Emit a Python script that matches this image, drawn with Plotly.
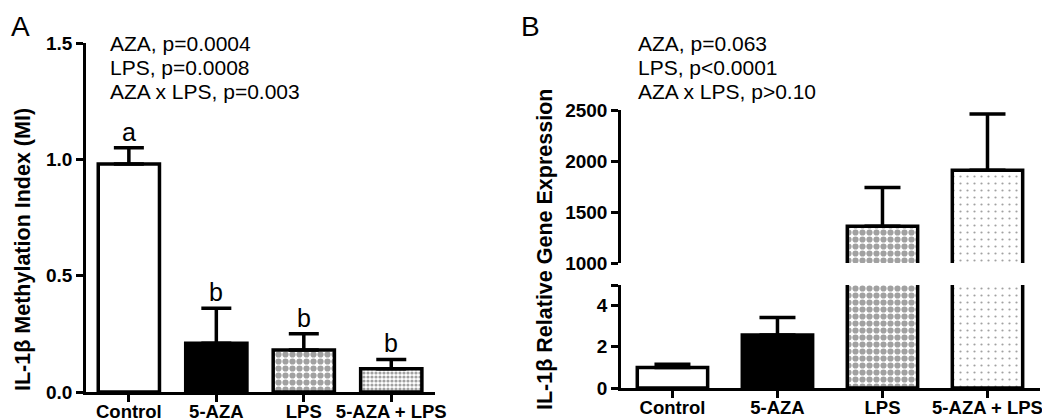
import plotly.graph_objects as go

categories = ["Control", "5-AZA", "LPS", "5-AZA + LPS"]

# Panel A: IL-1b methylation index
mi_mean = [0.98, 0.21, 0.18, 0.10]
mi_err = [0.07, 0.15, 0.07, 0.04]
mi_letters = ["a", "b", "b", "b"]
mi_ticks = [0.0, 0.5, 1.0, 1.5]
mi_ticktext = ["0.0", "0.5", "1.0", "1.5"]
a_stats = ["AZA, p=0.0004", "LPS, p=0.0008", "AZA x LPS, p=0.003"]

# Panel B: IL-1b relative gene expression (broken axis)
ge_mean = [1.0, 2.57, 1360, 1910]
ge_err = [0.15, 0.85, 380, 550]
ge_low_ticks = [0, 2, 4, 5]
ge_low_ticktext = ["0", "2", "4", ""]
ge_high_ticks = [1000, 1500, 2000, 2500]
b_stats = ["AZA, p=0.063", "LPS, p<0.0001", "AZA x LPS, p>0.10"]

FONT = "Liberation Sans, Arial, sans-serif"
W, H = 1050, 420
OFF = 8  # page body margin offset

def px_x(p):
    return (p - OFF) / W

def px_y(p):
    return 1 - (p - OFF) / H

fig = go.Figure()

bar_line = dict(color="black", width=3.5)
fill_colors = ["white", "black", "white", "white"]

# Panel A bars
fig.add_trace(go.Bar(
    x=categories, y=mi_mean, width=0.7,
    marker=dict(
        color=fill_colors, line=bar_line,
        pattern=dict(shape=["", "", ".", "."], fgcolor="black", bgcolor="white",
                     size=[6, 6, 7, 4], solidity=[0.3, 0.3, 0.62, 0.5], fillmode="overlay"),
    ),
    error_y=dict(type="data", array=mi_err, symmetric=False, arrayminus=[0, 0, 0, 0],
                 color="black", thickness=3.5, width=15),
    xaxis="x", yaxis="y", showlegend=False,
))

b_pattern = dict(shape=["", "", ".", "."], fgcolor="black", bgcolor="white",
                 size=[6, 6, 7, 7], solidity=[0.3, 0.3, 0.62, 0.08], fillmode="overlay")

# Panel B bars, lower segment
fig.add_trace(go.Bar(
    x=categories, y=ge_mean, width=0.67,
    marker=dict(color=fill_colors, line=bar_line, pattern=b_pattern),
    error_y=dict(type="data", array=ge_err, symmetric=False, arrayminus=[0, 0, 0, 0],
                 color="black", thickness=3.5, width=18),
    xaxis="x2", yaxis="y2", showlegend=False,
))

# Panel B bars, upper segment
fig.add_trace(go.Bar(
    x=categories, y=ge_mean, width=0.67,
    marker=dict(color=fill_colors, line=bar_line, pattern=b_pattern),
    error_y=dict(type="data", array=ge_err, symmetric=False, arrayminus=[0, 0, 0, 0],
                 color="black", thickness=3.5, width=18),
    xaxis="x3", yaxis="y3", showlegend=False,
))

tickfont = dict(family=FONT, size=19, color="black", weight="bold")
catfont = dict(family=FONT, size=18.5, color="black", weight="bold")
axis_common = dict(showline=True, linecolor="black", linewidth=2.5, ticks="outside",
                   ticklen=7, tickwidth=2.5, tickcolor="black", showgrid=False,
                   zeroline=False, automargin=False)

fig.update_layout(
    template="none",
    width=W, height=H,
    margin=dict(l=0, r=0, t=0, b=0, pad=0, autoexpand=False),
    paper_bgcolor="white", plot_bgcolor="rgba(0,0,0,0)",
    font=dict(family=FONT, color="black"),
    xaxis=dict(domain=[px_x(86), px_x(435)], anchor="y", type="category",
               range=[-0.49, 3.5], tickfont=catfont, ticklabelstandoff=-6, **axis_common),
    yaxis=dict(domain=[px_y(392), px_y(43)], anchor="x", range=[0, 1.5],
               tickvals=mi_ticks, ticktext=mi_ticktext, tickfont=tickfont, **axis_common),
    xaxis2=dict(domain=[px_x(621), px_x(1040)], anchor="y2", type="category",
                range=[-0.49, 3.5], tickfont=catfont, ticklabelstandoff=-6, **axis_common),
    yaxis2=dict(domain=[px_y(388), px_y(285)], anchor="x2", range=[0, 5],
                tickvals=ge_low_ticks, ticktext=ge_low_ticktext, tickfont=tickfont, **axis_common),
    xaxis3=dict(domain=[px_x(621), px_x(1040)], anchor="y3", type="category",
                range=[-0.49, 3.5], visible=False),
    yaxis3=dict(domain=[px_y(263), px_y(110)], anchor="x3", range=[1000, 2500],
                tickvals=ge_high_ticks, tickfont=tickfont, **axis_common),
)

ann = []
# panel letters
ann.append(dict(text="A", x=px_x(9), y=px_y(8.5), xref="paper", yref="paper",
                xanchor="left", yanchor="top", showarrow=False,
                font=dict(family=FONT, size=28, color="black")))
ann.append(dict(text="B", x=px_x(519), y=px_y(8.5), xref="paper", yref="paper",
                xanchor="left", yanchor="top", showarrow=False,
                font=dict(family=FONT, size=28, color="black")))
# stats text
for i, t in enumerate(a_stats):
    ann.append(dict(text=t, x=px_x(108), y=px_y(43 + 24.5 * i), xref="paper", yref="paper",
                    xanchor="left", yanchor="middle", showarrow=False,
                    font=dict(family=FONT, size=21, color="black")))
for i, t in enumerate(b_stats):
    ann.append(dict(text=t, x=px_x(636), y=px_y(43 + 24.5 * i), xref="paper", yref="paper",
                    xanchor="left", yanchor="middle", showarrow=False,
                    font=dict(family=FONT, size=21, color="black")))
# axis titles
ann.append(dict(text="IL-1β Methylation Index (MI)", x=px_x(23), y=px_y(250),
                xref="paper", yref="paper", textangle=-90, showarrow=False,
                xanchor="center", yanchor="middle",
                font=dict(family=FONT, size=21.5, color="black", weight="bold")))
ann.append(dict(text="IL-1β Relative Gene Expression", x=px_x(545), y=px_y(250),
                xref="paper", yref="paper", textangle=-90, showarrow=False,
                xanchor="center", yanchor="middle",
                font=dict(family=FONT, size=21.5, color="black", weight="bold")))
# significance letters
for c, m, e, l in zip(categories, mi_mean, mi_err, mi_letters):
    ann.append(dict(text=l, x=c, y=m + e, xref="x", yref="y", showarrow=False,
                    xanchor="center", yanchor="bottom", yshift=0,
                    font=dict(family=FONT, size=25, color="black")))

fig.update_layout(annotations=ann)

fig.write_html("out.html")
